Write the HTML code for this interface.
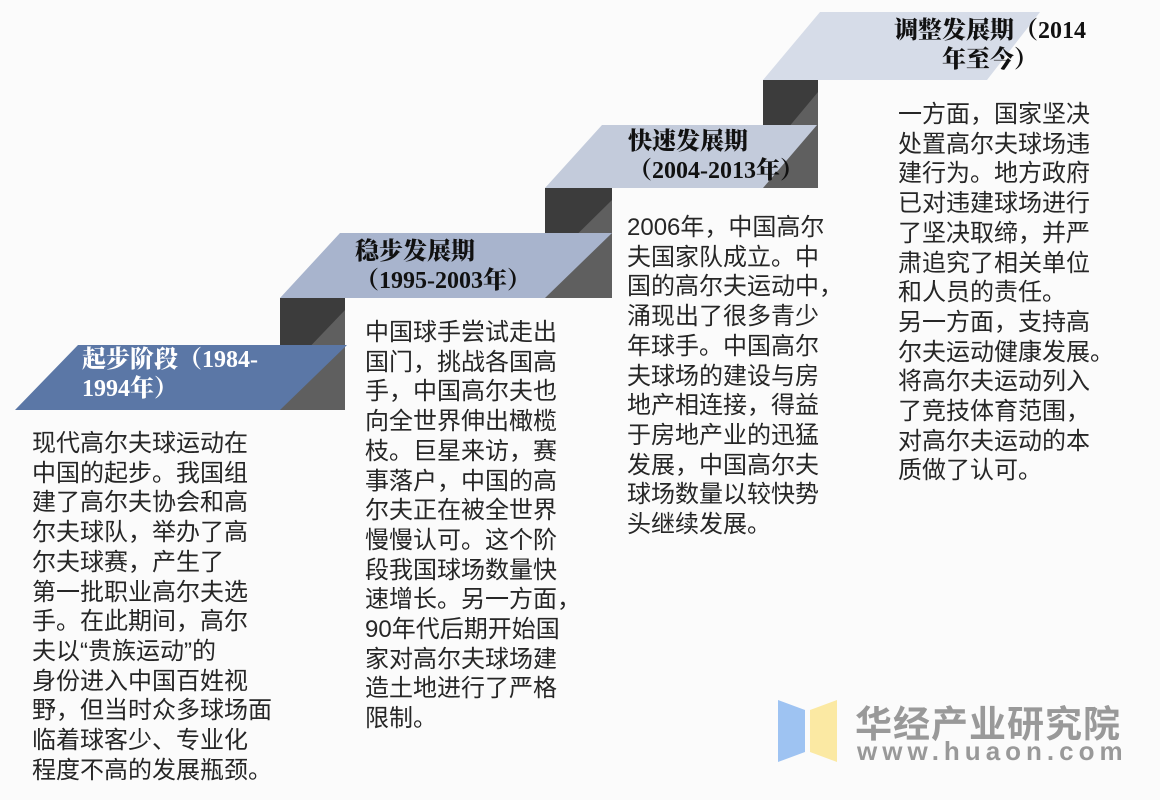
<!DOCTYPE html>
<html><head><meta charset="utf-8"><style>
body{margin:0;width:1160px;height:800px;background:#fbfbfb;position:relative;overflow:hidden;font-family:"Liberation Sans","Noto Sans CJK SC",sans-serif;}
.t{position:absolute;font-size:24px;line-height:29.7px;color:#262626;white-space:nowrap;}
.h{position:absolute;font-family:"Liberation Serif","Noto Serif CJK SC",serif;font-weight:900;font-size:24px;line-height:29px;white-space:nowrap;text-align:left;}
</style></head><body>
<svg width="1160" height="800" style="position:absolute;left:0;top:0">
<g>
<rect x="280" y="298" width="65" height="112" fill="#3c3c3c"/><polygon points="345,310 345,410 280,410 280,378" fill="#5f5f5f"/>
<rect x="545" y="188" width="67" height="110" fill="#3c3c3c"/><polygon points="612,200 612,298 545,298 545,266" fill="#5f5f5f"/>
<rect x="763" y="80" width="55" height="108" fill="#3c3c3c"/><polygon points="818,92 818,188 763,188 763,158" fill="#5f5f5f"/>
</g>
<polygon points="78,345 347,345 280,410 15,410" fill="#5b77a6"/>
<polygon points="340,233 612,233 545,298 280,298" fill="#a8b4cd"/>
<polygon points="602,125 817,125 763,188 545,188" fill="#c3cbdb"/>
<polygon points="820,12 1040,12 987,80 763,80" fill="#d6dce8"/>
<polygon points="778,700 805,710 805,752 778,762" fill="#9ec3f2"/>
<polygon points="810,710 837,700 837,762 810,752" fill="#fbe9a3"/>
</svg>
<div class="h" style="left:82px;top:346px;color:#fff">起步阶段（1984-<br>1994年）</div>
<div class="h" style="left:355px;top:238px;color:#111">稳步发展期<br>（1995-2003年）</div>
<div class="h" style="left:628px;top:128px;color:#111">快速发展期<br>（2004-2013年）</div>
<div class="h" style="left:880px;top:17px;width:220px;text-align:center;color:#111">调整发展期（2014<br>年至今）</div>
<div class="t" style="left:32px;top:429px">现代高尔夫球运动在<br>中国的起步。我国组<br>建了高尔夫协会和高<br>尔夫球队，举办了高<br>尔夫球赛，产生了<br>第一批职业高尔夫选<br>手。在此期间，高尔<br>夫以“贵族运动”的<br>身份进入中国百姓视<br>野，但当时众多球场面<br>临着球客少、专业化<br>程度不高的发展瓶颈。</div>
<div class="t" style="left:365px;top:318px">中国球手尝试走出<br>国门，挑战各国高<br>手，中国高尔夫也<br>向全世界伸出橄榄<br>枝。巨星来访，赛<br>事落户，中国的高<br>尔夫正在被全世界<br>慢慢认可。这个阶<br>段我国球场数量快<br>速增长。另一方面，<br>90年代后期开始国<br>家对高尔夫球场建<br>造土地进行了严格<br>限制。</div>
<div class="t" style="left:627px;top:213px">2006年，中国高尔<br>夫国家队成立。中<br>国的高尔夫运动中，<br>涌现出了很多青少<br>年球手。中国高尔<br>夫球场的建设与房<br>地产相连接，得益<br>于房地产业的迅猛<br>发展，中国高尔夫<br>球场数量以较快势<br>头继续发展。</div>
<div class="t" style="left:898px;top:100px">一方面，国家坚决<br>处置高尔夫球场违<br>建行为。地方政府<br>已对违建球场进行<br>了坚决取缔，并严<br>肃追究了相关单位<br>和人员的责任。<br>另一方面，支持高<br>尔夫运动健康发展。<br>将高尔夫运动列入<br>了竞技体育范围，<br>对高尔夫运动的本<br>质做了认可。</div>
<div style="position:absolute;left:855px;top:694px;font-size:37px;font-weight:bold;color:#999;letter-spacing:1px;white-space:nowrap">华经产业研究院</div>
<div style="position:absolute;left:857px;top:736px;font-size:26px;font-weight:bold;color:#999;letter-spacing:5px;white-space:nowrap">www.huaon.com</div>
</body></html>
